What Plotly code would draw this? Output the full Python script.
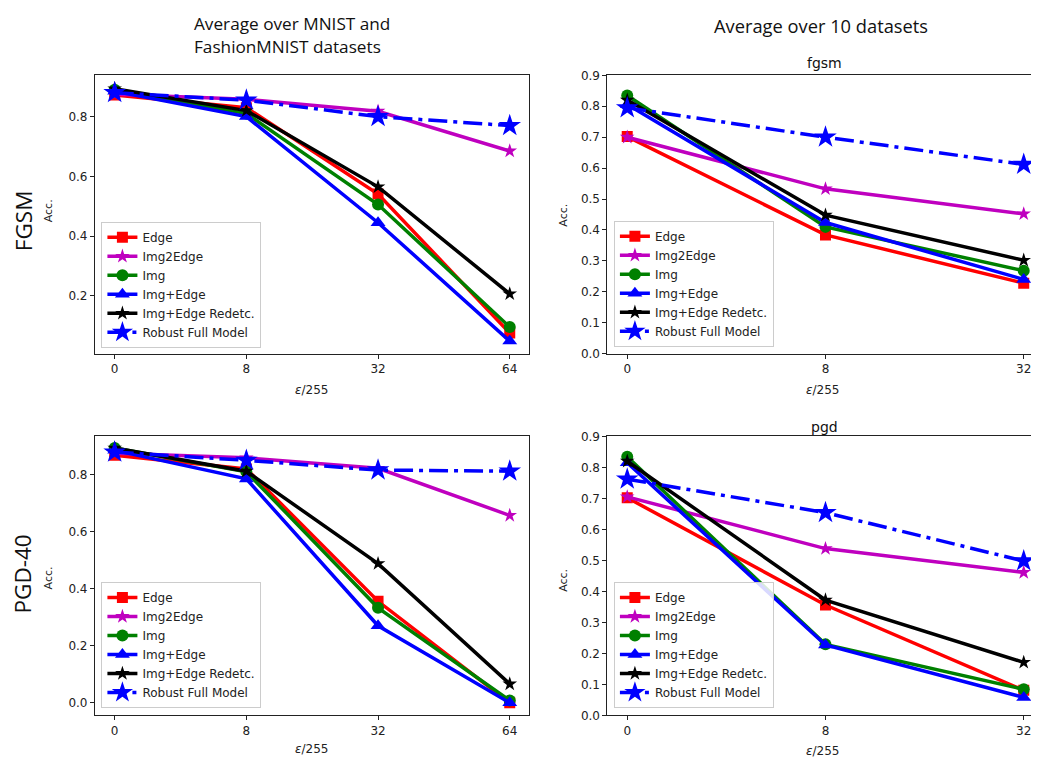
import plotly.graph_objects as go

# ---------------- data ----------------
models = ["Edge", "Img2Edge", "Img", "Img+Edge", "Img+Edge Redetc.", "Robust Full Model"]
eps_left = ["0", "8", "32", "64"]
eps_right = ["0", "8", "32"]

fgsm_mnist = {
    "Edge": [0.872, 0.83, 0.541, 0.076],
    "Img2Edge": [0.875, 0.858, 0.818, 0.685],
    "Img": [0.89, 0.81, 0.506, 0.096],
    "Img+Edge": [0.885, 0.80, 0.445, 0.049],
    "Img+Edge Redetc.": [0.893, 0.82, 0.565, 0.207],
    "Robust Full Model": [0.88, 0.855, 0.80, 0.77],
}
pgd_mnist = {
    "Edge": [0.868, 0.82, 0.356, 0.0],
    "Img2Edge": [0.875, 0.859, 0.822, 0.657],
    "Img": [0.893, 0.81, 0.333, 0.008],
    "Img+Edge": [0.885, 0.785, 0.27, 0.0],
    "Img+Edge Redetc.": [0.893, 0.812, 0.488, 0.066],
    "Robust Full Model": [0.879, 0.85, 0.816, 0.812],
}
fgsm_10 = {
    "Edge": [0.702, 0.384, 0.228],
    "Img2Edge": [0.70, 0.533, 0.452],
    "Img": [0.835, 0.41, 0.268],
    "Img+Edge": [0.806, 0.424, 0.24],
    "Img+Edge Redetc.": [0.82, 0.448, 0.302],
    "Robust Full Model": [0.795, 0.70, 0.612],
}
pgd_10 = {
    "Edge": [0.702, 0.356, 0.081],
    "Img2Edge": [0.705, 0.538, 0.461],
    "Img": [0.834, 0.229, 0.084],
    "Img+Edge": [0.815, 0.227, 0.058],
    "Img+Edge Redetc.": [0.82, 0.372, 0.171],
    "Robust Full Model": [0.762, 0.654, 0.498],
}

# ---------------- layout helpers ----------------
OFF = 8  # page body margin of the browser
W, H = 1039 - OFF, 768 - OFF
def px(x): return (x - OFF) / W
def py(y): return 1 - (y - OFF) / H

styles = {
    "Edge": dict(color="#ff0000", symbol="square", size=11, dash="solid"),
    "Img2Edge": dict(color="#bf00bf", symbol="star", size=11, dash="solid"),
    "Img": dict(color="#008000", symbol="circle", size=12, dash="solid"),
    "Img+Edge": dict(color="#0000ff", symbol="triangle-up", size=13, dash="solid"),
    "Img+Edge Redetc.": dict(color="#000000", symbol="star", size=11, dash="solid"),
    "Robust Full Model": dict(color="#0000ff", symbol="star", size=17, dash="19px,6px,4px,6px"),
}

FONT = "DejaVu Sans"
fig = go.Figure()

panels = [
    (fgsm_mnist, eps_left, "x", "y", "legend"),
    (fgsm_10, eps_right, "x2", "y2", "legend2"),
    (pgd_mnist, eps_left, "x3", "y3", "legend3"),
    (pgd_10, eps_right, "x4", "y4", "legend4"),
]

for data, ticks, xa, ya, lg in panels:
    for m in models:
        s = styles[m]
        fig.add_trace(go.Scatter(
            x=list(range(len(ticks))), y=data[m], name=m,
            mode="lines+markers", xaxis=xa, yaxis=ya, legend=lg,
            line=dict(color=s["color"], width=3.5, dash=s["dash"]),
            marker=dict(symbol=s["symbol"], size=s["size"], color=s["color"],
                        line=dict(width=0)),
        ))

axis_common = dict(showline=True, mirror=True, linecolor="#222", linewidth=1,
                   ticks="outside", ticklen=4, tickcolor="#222", showgrid=False,
                   zeroline=False, tickfont=dict(family=FONT, size=12, color="#222"))

left_dom = [px(95), px(530)]
right_dom = [px(608), 1.0]
top_dom = [py(353), py(69.5)]
bot_dom = [py(721.5), py(437.3)]

fig.update_layout(
    width=W, height=H, margin=dict(l=0, r=0, t=0, b=0),
    paper_bgcolor="white", plot_bgcolor="white", showlegend=True,
    xaxis=dict(domain=left_dom, anchor="y", range=[-0.15, 3.15],
               tickvals=list(range(4)), ticktext=eps_left, **axis_common),
    yaxis=dict(domain=top_dom, anchor="x", range=[0.007, 0.938],
               tickvals=[0.2, 0.4, 0.6, 0.8], ticktext=["0.2", "0.4", "0.6", "0.8"], **axis_common),
    xaxis2=dict(domain=right_dom, anchor="y2", range=[-0.1, 2.072],
                tickvals=list(range(3)), ticktext=eps_right, **axis_common),
    yaxis2=dict(domain=top_dom, anchor="x2", range=[0, 0.9], dtick=0.1, tick0=0,
                tickformat=".1f", **axis_common),
    xaxis3=dict(domain=left_dom, anchor="y3", range=[-0.15, 3.15],
                tickvals=list(range(4)), ticktext=eps_left, **axis_common),
    yaxis3=dict(domain=bot_dom, anchor="x3", range=[-0.044, 0.934],
                tickvals=[0, 0.2, 0.4, 0.6, 0.8], ticktext=["0.0", "0.2", "0.4", "0.6", "0.8"], **axis_common),
    xaxis4=dict(domain=right_dom, anchor="y4", range=[-0.1, 2.072],
                tickvals=list(range(3)), ticktext=eps_right, **axis_common),
    yaxis4=dict(domain=bot_dom, anchor="x4", range=[0, 0.9], dtick=0.1, tick0=0,
                tickformat=".1f", **axis_common),
)

legend_common = dict(xanchor="left", yanchor="bottom", bgcolor="rgba(255,255,255,0.85)",
                     bordercolor="#cccccc", borderwidth=1, itemwidth=30, tracegroupgap=0,
                     font=dict(family=FONT, size=12, color="#222"), traceorder="normal")
fig.update_layout(
    legend=dict(x=px(101.5), y=py(347), **legend_common),
    legend2=dict(x=px(614.5), y=py(346), **legend_common),
    legend3=dict(x=px(101.5), y=py(714), **legend_common),
    legend4=dict(x=px(614.5), y=py(714), **legend_common),
)

TITLE_FONT = "Open Sans"
ann = []
def add_text(text, x, y, size, family=FONT, angle=0, color="#111", xanchor="center"):
    ann.append(dict(text=text, x=px(x), y=py(y), xref="paper", yref="paper",
                    showarrow=False, xanchor=xanchor, yanchor="middle", align="left",
                    textangle=angle, font=dict(family=family, size=size, color=color)))

add_text("Average over MNIST and", 192, 17, 17.2, TITLE_FONT, xanchor="left")
add_text("FashionMNIST datasets", 192, 40, 17.2, TITLE_FONT, xanchor="left")
add_text("Average over 10 datasets", 821.5, 19, 18.3, TITLE_FONT)
add_text("FGSM", 23, 217, 22.5, TITLE_FONT, angle=-90)
add_text("PGD-40", 23, 577, 22.5, TITLE_FONT, angle=-90)
add_text("fgsm", 825, 57, 14)
add_text("pgd", 825, 428, 14)
for (x, y) in [(48, 207), (48, 581), (564, 212), (564, 584)]:
    add_text("Acc.", x, y, 11, angle=-90, color="#222")
for (x, y) in [(312, 390), (312, 756), (823, 390), (823, 758)]:
    add_text("<i>ε</i>/255", x, y, 12, color="#222")

fig.update_layout(annotations=ann)
fig.write_html("out.html")
